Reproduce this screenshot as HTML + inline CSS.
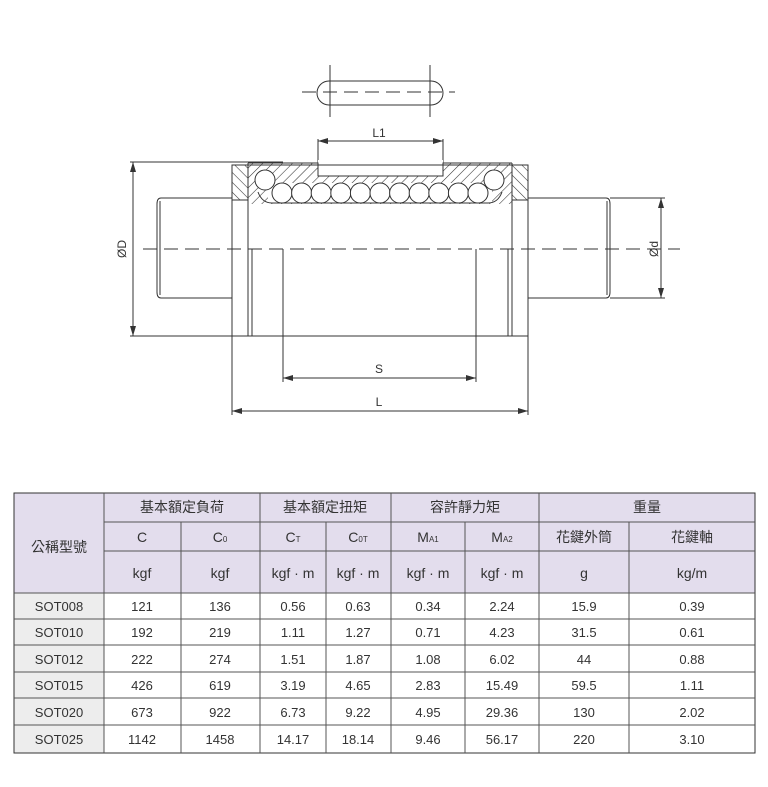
<!DOCTYPE html>
<html><head><meta charset="utf-8"><style>
body{margin:0;background:#fff;}
svg text{font-family:"Liberation Sans","Noto Sans CJK TC",sans-serif;fill:#333;}
</style></head><body>
<svg width="768" height="782" viewBox="0 0 768 782" xmlns="http://www.w3.org/2000/svg">
<defs>
<pattern id="h1" patternUnits="userSpaceOnUse" width="7" height="7" patternTransform="rotate(45)"><line x1="0" y1="0" x2="0" y2="7" stroke="#333" stroke-width="1.1"/></pattern>
<pattern id="h2" patternUnits="userSpaceOnUse" width="7" height="7" patternTransform="rotate(-45)"><line x1="0" y1="0" x2="0" y2="7" stroke="#333" stroke-width="1.1"/></pattern>
<marker id="a" markerWidth="10" markerHeight="6" refX="10" refY="3" orient="auto-start-reverse" markerUnits="userSpaceOnUse"><path d="M0,0 L10,3 L0,6z" fill="#333"/></marker>
</defs>
<g stroke="#333" stroke-width="1" fill="none">
<rect x="317" y="81" width="126" height="24" rx="12" fill="#fff"/>
<line x1="330" y1="65" x2="330" y2="117"/><line x1="430" y1="65" x2="430" y2="117"/>
<line x1="302" y1="92" x2="455" y2="92" stroke-dasharray="14,7"/>
<line x1="318" y1="139" x2="318" y2="163"/><line x1="443" y1="139" x2="443" y2="163"/>
<line x1="318" y1="141" x2="443" y2="141" marker-start="url(#a)" marker-end="url(#a)"/>
<path d="M232,198 H161 Q157,198 157,204 V292 Q157,298 161,298 H232"/>
<line x1="160" y1="201" x2="160" y2="295"/>
<path d="M528,198 H606 Q610,198 610,204 V292 Q610,298 606,298 H528"/>
<line x1="607" y1="201" x2="607" y2="295"/>
<rect x="248" y="163" width="264" height="41" fill="url(#h1)" stroke="none"/>
<rect x="232" y="165" width="16" height="35" fill="url(#h2)" stroke="none"/>
<rect x="512" y="165" width="16" height="35" fill="url(#h2)" stroke="none"/>
<rect x="318" y="160" width="125" height="16" fill="#fff" stroke="none"/>
<path d="M248,163 H318 V176 H443 V163 H512"/>
<rect x="232" y="165" width="296" height="171"/>
<line x1="232" y1="200" x2="248" y2="200"/><line x1="512" y1="200" x2="528" y2="200"/>
<line x1="248" y1="163" x2="248" y2="336"/><line x1="512" y1="163" x2="512" y2="336"/>
<line x1="252" y1="249" x2="252" y2="336"/><line x1="508" y1="249" x2="508" y2="336"/>
<line x1="283" y1="249" x2="283" y2="336"/><line x1="476" y1="249" x2="476" y2="336"/>
<rect x="268" y="183" width="224" height="20" fill="#fff" stroke="none"/>
<path d="M258,192 Q262,203 272,203 H488 Q498,203 502,192"/>
<g fill="#fff">
<circle cx="265" cy="180" r="10"/><circle cx="494" cy="180" r="10"/>
<circle cx="282" cy="193" r="10"/><circle cx="301.6" cy="193" r="10"/><circle cx="321.2" cy="193" r="10"/><circle cx="340.8" cy="193" r="10"/><circle cx="360.4" cy="193" r="10"/><circle cx="380" cy="193" r="10"/><circle cx="399.6" cy="193" r="10"/><circle cx="419.2" cy="193" r="10"/><circle cx="438.8" cy="193" r="10"/><circle cx="458.4" cy="193" r="10"/><circle cx="478" cy="193" r="10"/>
</g>
<line x1="143" y1="249" x2="680" y2="249" stroke-dasharray="14,7"/>
<line x1="130" y1="162" x2="283" y2="162"/><line x1="130" y1="336" x2="232" y2="336"/>
<line x1="133" y1="162" x2="133" y2="336" marker-start="url(#a)" marker-end="url(#a)"/>
<line x1="610" y1="198" x2="665" y2="198"/><line x1="610" y1="298" x2="665" y2="298"/>
<line x1="661" y1="198" x2="661" y2="298" marker-start="url(#a)" marker-end="url(#a)"/>
<line x1="283" y1="336" x2="283" y2="382"/><line x1="476" y1="336" x2="476" y2="382"/>
<line x1="283" y1="378" x2="476" y2="378" marker-start="url(#a)" marker-end="url(#a)"/>
<line x1="232" y1="336" x2="232" y2="415"/><line x1="528" y1="336" x2="528" y2="415"/>
<line x1="232" y1="411" x2="528" y2="411" marker-start="url(#a)" marker-end="url(#a)"/>
</g>
<g font-size="12" text-anchor="middle">
<text x="379" y="137">L1</text>
<text x="379" y="373">S</text>
<text x="379" y="406">L</text>
<text transform="translate(126,249) rotate(-90)">ØD</text>
<text transform="translate(658,249) rotate(-90)">Ød</text>
</g>
<rect x="14" y="493" width="741" height="100" fill="#e3dded"/>
<rect x="14" y="593" width="90" height="160" fill="#ededed"/>
<g stroke="#555" stroke-width="1" fill="none">
<rect x="14" y="493" width="741" height="260" stroke="#333"/>
<path d="M104,522 H755 M104,551 H755 M14,593 H755 M14,619 H755 M14,645 H755 M14,672 H755 M14,698 H755 M14,725 H755"/>
<path d="M104,493 V753 M260,493 V753 M391,493 V753 M539,493 V753 M181,522 V753 M326,522 V753 M465,522 V753 M629,522 V753"/>
</g>
<g font-size="14" text-anchor="middle">
<text x="59" y="552">公稱型號</text>
<text x="182" y="512">基本額定負荷</text>
<text x="325" y="512">基本額定扭矩</text>
<text x="465" y="512">容許靜力矩</text>
<text x="647" y="512">重量</text>
<text x="142" y="542">C</text>
<text x="220" y="542">C<tspan font-size="8">0</tspan></text>
<text x="293" y="542">C<tspan font-size="8">T</tspan></text>
<text x="358" y="542">C<tspan font-size="8">0T</tspan></text>
<text x="428" y="542">M<tspan font-size="8">A1</tspan></text>
<text x="502" y="542">M<tspan font-size="8">A2</tspan></text>
<text x="584" y="542">花鍵外筒</text>
<text x="692" y="542">花鍵軸</text>
<text x="142" y="578">kgf</text><text x="220" y="578">kgf</text>
<text x="293" y="578">kgf · m</text><text x="358" y="578">kgf · m</text>
<text x="428" y="578">kgf · m</text><text x="502" y="578">kgf · m</text>
<text x="584" y="578">g</text><text x="692" y="578">kg/m</text>
</g>
<g font-size="13" text-anchor="middle">
<g transform="translate(0,611)"><text x="59">SOT008</text><text x="142">121</text><text x="220">136</text><text x="293">0.56</text><text x="358">0.63</text><text x="428">0.34</text><text x="502">2.24</text><text x="584">15.9</text><text x="692">0.39</text></g>
<g transform="translate(0,637)"><text x="59">SOT010</text><text x="142">192</text><text x="220">219</text><text x="293">1.11</text><text x="358">1.27</text><text x="428">0.71</text><text x="502">4.23</text><text x="584">31.5</text><text x="692">0.61</text></g>
<g transform="translate(0,664)"><text x="59">SOT012</text><text x="142">222</text><text x="220">274</text><text x="293">1.51</text><text x="358">1.87</text><text x="428">1.08</text><text x="502">6.02</text><text x="584">44</text><text x="692">0.88</text></g>
<g transform="translate(0,690)"><text x="59">SOT015</text><text x="142">426</text><text x="220">619</text><text x="293">3.19</text><text x="358">4.65</text><text x="428">2.83</text><text x="502">15.49</text><text x="584">59.5</text><text x="692">1.11</text></g>
<g transform="translate(0,717)"><text x="59">SOT020</text><text x="142">673</text><text x="220">922</text><text x="293">6.73</text><text x="358">9.22</text><text x="428">4.95</text><text x="502">29.36</text><text x="584">130</text><text x="692">2.02</text></g>
<g transform="translate(0,744)"><text x="59">SOT025</text><text x="142">1142</text><text x="220">1458</text><text x="293">14.17</text><text x="358">18.14</text><text x="428">9.46</text><text x="502">56.17</text><text x="584">220</text><text x="692">3.10</text></g>
</g>
</svg>
</body></html>
